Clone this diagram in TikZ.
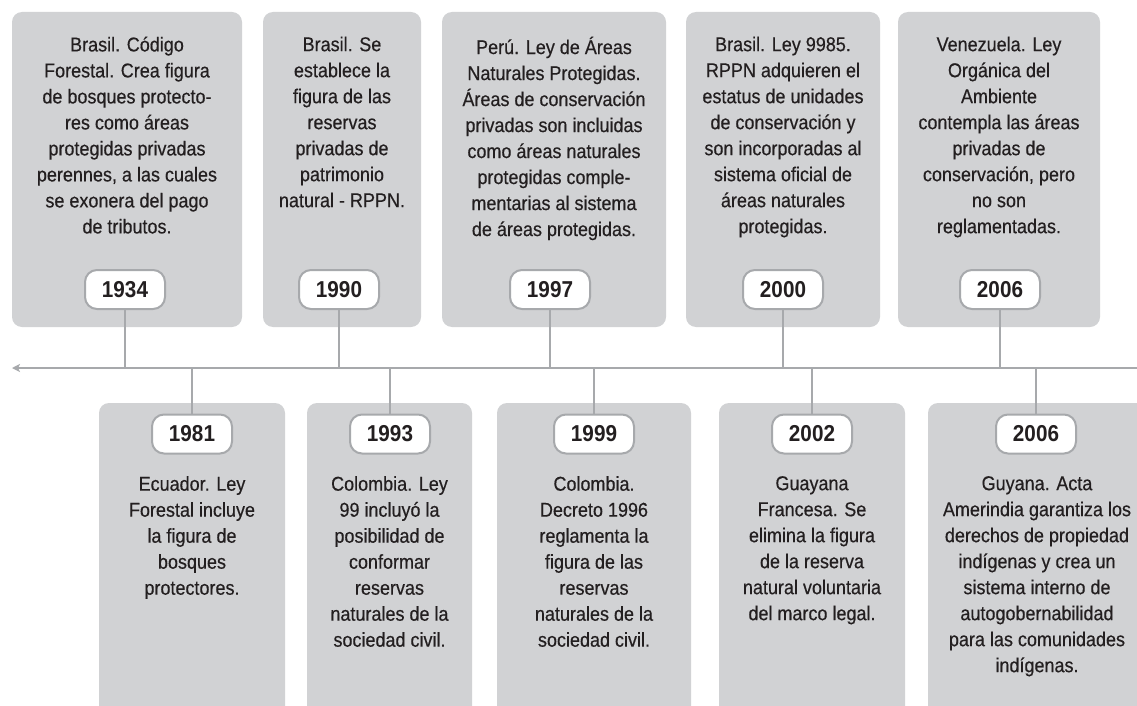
\documentclass[tikz,border=0pt]{standalone}
\usepackage{fontspec}
\setmainfont{Liberation Sans}[FakeStretch=0.9, UprightFeatures={FakeBold=0.4}]
\usetikzlibrary{arrows.meta}
\definecolor{boxgray}{HTML}{D1D2D4}
\definecolor{linegray}{HTML}{A7A9AC}
\definecolor{ink}{HTML}{231F20}
\begin{document}
\begin{tikzpicture}[x=1pt,y=-1pt,
  panel/.style={fill=boxgray, rounded corners=10pt, draw=none},
  body/.style={anchor=north, inner sep=0pt, align=center, text=ink,
    font=\fontsize{20}{26}\selectfont, execute at begin node={\rule{0pt}{20pt}}},
  yearbox/.style={draw=linegray, line width=2pt, fill=white, rounded corners=12pt,
    minimum width=80pt, minimum height=39pt, inner sep=0pt, text=ink,
    font=\bfseries\fontsize{23}{26}\selectfont},
  link/.style={draw=linegray, line width=2pt}]
\clip (0,0) rectangle (1137,706);
\fill[white] (0,0) rectangle (1137,706);
% top panels
\path[panel] (12,12) rectangle (242,327);
\path[panel] (263,12) rectangle (421,327);
\path[panel] (442,12) rectangle (666,327);
\path[panel] (686,12) rectangle (880,327);
\path[panel] (898,12) rectangle (1100,327);
% bottom panels
\path[panel] (99,403) rectangle (285,740);
\path[panel] (307,403) rectangle (472,740);
\path[panel] (497,403) rectangle (691,740);
\path[panel] (719,403) rectangle (905,740);
\path[panel] (928,403) rectangle (1160,740);
% axis
\coordinate (axR) at (1137,368);
\coordinate (axL) at (12,368);
\draw[link, -{Stealth[length=8pt,width=8pt,inset=2pt]}] (axR) -- (axL);
% top texts
\node[body] (t1) at (127,36.5) {Brasil. Código\\Forestal. Crea figura\\de bosques protecto-\\res como áreas\\protegidas privadas\\perennes, a las cuales\\se exonera del pago\\de tributos.};
\node[body] (t2) at (342,36.5) {Brasil. Se\\establece la\\figura de las\\reservas\\privadas de\\patrimonio\\natural - RPPN.};
\node[body] (t3) at (554,36.5) {Perú. Ley de Áreas\\Naturales Protegidas.\\Áreas de conservación\\privadas son incluidas\\como áreas naturales\\protegidas comple-\\mentarias al sistema\\de áreas protegidas.};
\node[body] (t4) at (783,36.5) {Brasil. Ley 9985.\\RPPN adquieren el\\estatus de unidades\\de conservación y\\son incorporadas al\\sistema oficial de\\áreas naturales\\protegidas.};
\node[body] (t5) at (999,36.5) {Venezuela. Ley\\Orgánica del\\Ambiente\\contempla las áreas\\privadas de\\conservación, pero\\no son\\reglamentadas.};
% bottom texts
\node[body] (b1) at (192,476) {Ecuador. Ley\\Forestal incluye\\la figura de\\bosques\\protectores.};
\node[body] (b2) at (389.5,476) {Colombia. Ley\\99 incluyó la\\posibilidad de\\conformar\\reservas\\naturales de la\\sociedad civil.};
\node[body] (b3) at (594,476) {Colombia.\\Decreto 1996\\reglamenta la\\figura de las\\reservas\\naturales de la\\sociedad civil.};
\node[body] (b4) at (812,476) {Guayana\\Francesa. Se\\elimina la figura\\de la reserva\\natural voluntaria\\del marco legal.};
\node[body] (b5) at (1037,476) {Guyana. Acta\\Amerindia garantiza los\\derechos de propiedad\\indígenas y crea un\\sistema interno de\\autogobernabilidad\\para las comunidades\\indígenas.};
% top year badges
\node[yearbox] (y1934) at (125,289.5) {1934};
\node[yearbox] (y1990) at (339,289.5) {1990};
\node[yearbox] (y1997) at (550,289.5) {1997};
\node[yearbox] (y2000) at (783,289.5) {2000};
\node[yearbox] (y2006a) at (1000,289.5) {2006};
% bottom year badges
\node[yearbox] (y1981) at (192,434) {1981};
\node[yearbox] (y1993) at (390,434) {1993};
\node[yearbox] (y1999) at (594,434) {1999};
\node[yearbox] (y2002) at (812,434) {2002};
\node[yearbox] (y2006b) at (1036,434) {2006};
% connectors
\foreach \n in {y1934,y1990,y1997,y2000,y2006a}
  \draw[link] (\n.south) -- (\n.south |- axR);
\foreach \n in {y1981,y1993,y1999,y2002,y2006b}
  \draw[link] (\n.north) -- (\n.north |- axR);
\end{tikzpicture}
\end{document}
